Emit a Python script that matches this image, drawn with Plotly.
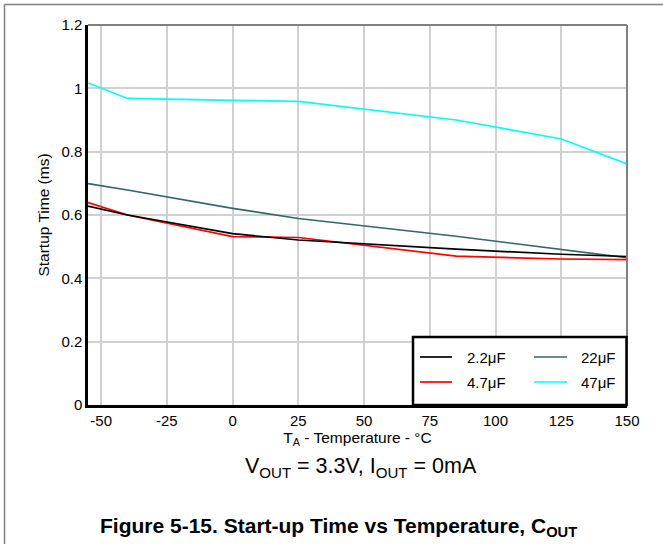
import plotly.graph_objects as go

# ---- data ----
temps = [-55, -40, 0, 25, 85, 125, 150]
c2_2uF = [0.628, 0.600, 0.541, 0.521, 0.492, 0.476, 0.469]
c4_7uF = [0.639, 0.600, 0.532, 0.529, 0.470, 0.461, 0.459]
c22uF = [0.699, 0.679, 0.621, 0.589, 0.533, 0.490, 0.465]
c47uF = [1.017, 0.968, 0.962, 0.959, 0.900, 0.840, 0.761]
series_names = ["2.2μF", "22μF", "4.7μF", "47μF"]
series_vals = [c2_2uF, c22uF, c4_7uF, c47uF]
series_colors = ["#000000", "#336666", "#ff0000", "#00ffff"]
x_ticks = [-50, -25, 0, 25, 50, 75, 100, 125, 150]
x_tick_text = ["-50", "-25", "0", "25", "50", "75", "100", "125", "150"]
y_ticks = [0, 0.2, 0.4, 0.6, 0.8, 1.0, 1.2]
y_tick_text = ["0", "0.2", "0.4", "0.6", "0.8", "1", "1.2"]

W, H = 663, 544
L, R, T, B = 88, 627, 25, 405  # plot area in pixels
FONT = "Arial, Liberation Sans, sans-serif"


def px(p):
    return (p - L) / (R - L)


def py(p):
    return (B - p) / (B - T)


fig = go.Figure()
# draw order: cyan, teal, red, black on top
for idx in [3, 1, 2, 0]:
    fig.add_trace(go.Scatter(
        x=temps, y=series_vals[idx], mode="lines", name=series_names[idx],
        line=dict(color=series_colors[idx], width=1.7), showlegend=False,
        hoverinfo="skip",
    ))

shapes = []
annotations = []

# outer frame (left and top edges)
shapes.append(dict(type="line", xref="paper", yref="paper",
                   x0=px(4.5), x1=px(4.5), y0=py(4.5), y1=py(600),
                   line=dict(color="#808080", width=1.5)))
shapes.append(dict(type="line", xref="paper", yref="paper",
                   x0=px(4.5), x1=px(700), y0=py(4.5), y1=py(4.5),
                   line=dict(color="#808080", width=1.5)))

# plot border: top and right grey
shapes.append(dict(type="line", xref="paper", yref="paper",
                   x0=0, x1=1, y0=1, y1=1, line=dict(color="#808080", width=2)))
shapes.append(dict(type="line", xref="paper", yref="paper",
                   x0=1, x1=1, y0=0, y1=1, line=dict(color="#808080", width=2)))

# legend box
lx0, lx1, ly0, ly1 = 413, 626.5, 337, 405
shapes.append(dict(type="rect", xref="paper", yref="paper",
                   x0=px(lx0), x1=px(lx1), y0=py(ly1), y1=py(ly0),
                   fillcolor="white", line=dict(color="black", width=2.5), layer="above"))
leg_pos = [
    (420, 452, 508, 357),  # 2.2
    (534, 567, 618, 357),  # 22
    (420, 452, 508, 382),  # 4.7
    (534, 567, 618, 382),  # 47
]
for i, (a, b, tr, yy) in enumerate(leg_pos):
    shapes.append(dict(type="line", xref="paper", yref="paper",
                       x0=px(a), x1=px(b), y0=py(yy), y1=py(yy),
                       line=dict(color=series_colors[i], width=1.7), layer="above"))
    annotations.append(dict(text=series_names[i], xref="paper", yref="paper",
                            x=px(tr), y=py(yy), xanchor="right", yanchor="middle",
                            showarrow=False, font=dict(size=15, color="black", family=FONT)))

# subtitle and title
annotations.append(dict(text="V<sub>OUT</sub> = 3.3V, I<sub>OUT</sub> = 0mA",
                        xref="paper", yref="paper", x=px(361), y=py(467),
                        xanchor="center", yanchor="middle", showarrow=False,
                        font=dict(size=21.5, color="black", family=FONT)))
annotations.append(dict(text="<b>Figure 5-15. Start-up Time vs Temperature, C<sub>OUT</sub></b>",
                        xref="paper", yref="paper", x=px(338), y=py(527),
                        xanchor="center", yanchor="middle", showarrow=False,
                        font=dict(size=21, color="black", family=FONT)))

fig.update_layout(
    width=W, height=H,
    margin=dict(l=L, r=W - R, t=T, b=H - B, pad=0),
    paper_bgcolor="white", plot_bgcolor="white",
    font=dict(family=FONT, size=15, color="black"),
    shapes=shapes, annotations=annotations,
    showlegend=False,
)
fig.update_xaxes(
    range=[-55, 150], tickvals=x_ticks, ticktext=x_tick_text, ticks="", showgrid=True,
    gridcolor="#d0d0d0", gridwidth=1.5, zeroline=False,
    showline=True, linecolor="black", linewidth=2.5, mirror=False,
    tickfont=dict(size=15, family=FONT),
    title=dict(text="T<sub>A</sub> - Temperature - °C", font=dict(size=15.5, family=FONT), standoff=1),
)
fig.update_yaxes(
    range=[0, 1.2], tickvals=y_ticks, ticktext=y_tick_text, ticks="", showgrid=True,
    gridcolor="#d0d0d0", gridwidth=1.5, zeroline=False,
    showline=True, linecolor="black", linewidth=2.5, mirror=False,
    tickfont=dict(size=15, family=FONT),
    title=dict(text="Startup Time (ms)", font=dict(size=15.5, family=FONT), standoff=8),
)

fig.write_html("out.html", config={"displayModeBar": False},
               post_script="document.body.style.margin='0';")
